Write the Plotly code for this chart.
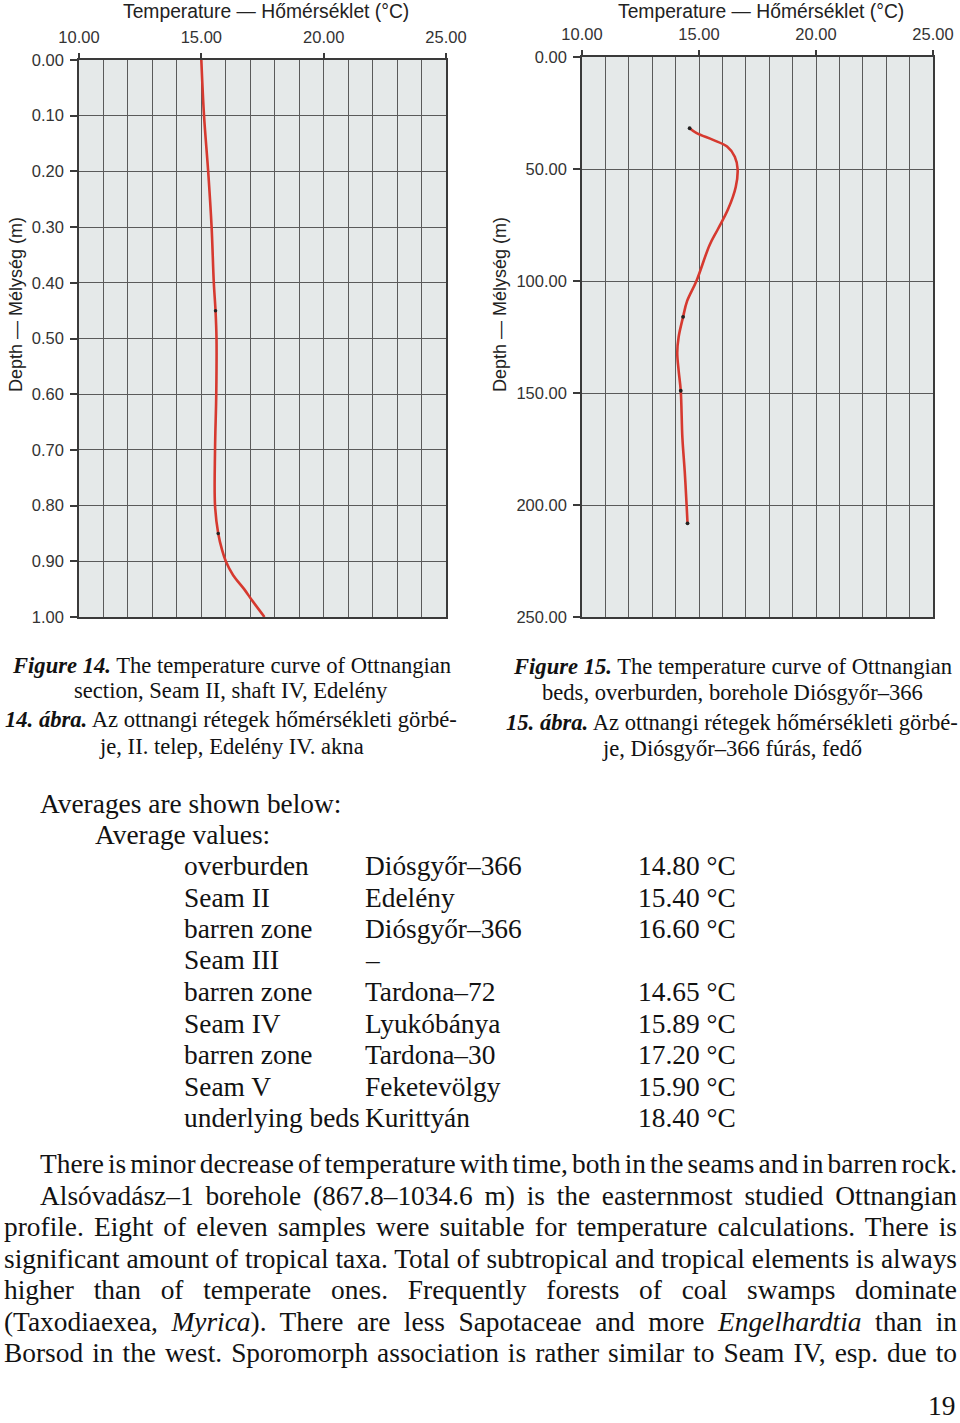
import json
import plotly.graph_objects as go

W, H = 960, 1423

# ---------------- data ----------------
left_depth = [0.00, 0.10, 0.20, 0.30, 0.40, 0.45, 0.50, 0.60, 0.70, 0.80, 0.85, 0.88, 0.90, 0.925, 0.95, 0.97, 1.00]
left_temp = [15.00, 15.11, 15.28, 15.42, 15.51, 15.58, 15.62, 15.61, 15.56, 15.56, 15.69, 15.85, 16.00, 16.30, 16.75, 17.07, 17.58]
left_sample_depth = [0.45, 0.85]
left_sample_temp = [15.58, 15.69]

right_depth = [31.8, 34, 37, 40, 44.5, 50, 58, 68, 77, 84, 100, 109, 116, 125, 132, 140, 149, 170, 185, 200, 208.2]
right_temp = [14.60, 14.90, 15.60, 16.20, 16.53, 16.65, 16.57, 16.24, 15.80, 15.45, 14.89, 14.49, 14.32, 14.13, 14.07, 14.13, 14.22, 14.29, 14.39, 14.47, 14.51]
right_sample_depth = [31.8, 116.0, 149.0, 208.2]
right_sample_temp = [14.60, 14.32, 14.22, 14.51]

temp_range = [10, 25]
left_depth_range = [0, 1]
right_depth_range = [0, 250]

x_title = "Temperature — Hőmérséklet (°C)"
y_title = "Depth — Mélység (m)"

caption_left = [
    "<b><i>Figure 14.</i></b> The temperature curve of Ottnangian",
    "section, Seam II, shaft IV, Edelény",
    "<b><i>14. ábra.</i></b> Az ottnangi rétegek hőmérsékleti görbé-",
    "je, II. telep, Edelény IV. akna",
]
caption_right = [
    "<b><i>Figure 15.</i></b> The temperature curve of Ottnangian",
    "beds, overburden, borehole Diósgyőr–366",
    "<b><i>15. ábra.</i></b> Az ottnangi rétegek hőmérsékleti görbé-",
    "je, Diósgyőr–366 fúrás, fedő",
]
intro_lines = ["Averages are shown below:", "Average values:"]
avg_units = ["overburden", "Seam II", "barren zone", "Seam III", "barren zone",
             "Seam IV", "barren zone", "Seam V", "underlying beds"]
avg_sites = ["Diósgyőr–366", "Edelény", "Diósgyőr–366", "–", "Tardona–72",
             "Lyukóbánya", "Tardona–30", "Feketevölgy", "Kurittyán"]
avg_temps = ["14.80 °C", "15.40 °C", "16.60 °C", "", "14.65 °C",
             "15.89 °C", "17.20 °C", "15.90 °C", "18.40 °C"]
paragraph = [
    "There is minor decrease of temperature with time, both in the seams and in barren rock.",
    "Alsóvadász–1 borehole (867.8–1034.6 m) is the easternmost studied Ottnangian",
    "profile. Eight of eleven samples were suitable for temperature calculations. There is",
    "significant amount of tropical taxa. Total of subtropical and tropical elements is always",
    "higher than of temperate ones. Frequently forests of coal swamps dominate",
    "(Taxodiaexea, <i>Myrica</i>). There are less Sapotaceae and more <i>Engelhardtia</i> than in",
    "Borsod in the west. Sporomorph association is rather similar to Seam IV, esp. due to",
]
page_number = "19"

# ---------------- styling ----------------
RED = "#d6392f"
GRID = "#5a5a5a"
AXIS = "#3a3a3a"
BG = "#e5e9e9"
SANS = "Liberation Sans, Arial, sans-serif"
SERIF = "Liberation Serif, Times New Roman, serif"
TXT = "#121212"
BODY = 27.4
CAP = 22.6


def px(x):
    return x / W


def py(y):
    return 1 - y / H


fig = go.Figure()
fig.add_trace(go.Scatter(x=left_temp, y=left_depth, mode="lines",
                         line=dict(color=RED, width=2.6, shape="spline", smoothing=1.0),
                         xaxis="x", yaxis="y", showlegend=False, hoverinfo="skip"))
fig.add_trace(go.Scatter(x=left_sample_temp, y=left_sample_depth, mode="markers",
                         marker=dict(color="#222", size=3.5),
                         xaxis="x", yaxis="y", showlegend=False, hoverinfo="skip"))
fig.add_trace(go.Scatter(x=right_temp, y=right_depth, mode="lines",
                         line=dict(color=RED, width=2.6, shape="spline", smoothing=1.0),
                         xaxis="x2", yaxis="y2", showlegend=False, hoverinfo="skip"))
fig.add_trace(go.Scatter(x=right_sample_temp, y=right_sample_depth, mode="markers",
                         marker=dict(color="#222", size=3.8),
                         xaxis="x2", yaxis="y2", showlegend=False, hoverinfo="skip"))


def xaxis_cfg(domain, anchor):
    return dict(domain=domain, anchor=anchor, side="top", range=temp_range,
                tick0=10, dtick=5, tickformat=".2f",
                showgrid=True, gridcolor=GRID, gridwidth=1.2,
                minor=dict(dtick=1, showgrid=True, gridcolor=GRID, gridwidth=1.2, ticks=""),
                ticks="outside", ticklen=5, tickwidth=1.5, tickcolor=AXIS,
                showline=True, mirror=True, linecolor=AXIS, linewidth=1.6,
                zeroline=False, ticklabelstandoff=4, automargin=False,
                tickfont=dict(family=SANS, size=16.5, color="#333"), fixedrange=True)


def yaxis_cfg(domain, anchor, rng, dtick):
    return dict(domain=domain, anchor=anchor, range=[rng[1], rng[0]],
                tick0=0, dtick=dtick, tickformat=".2f",
                showgrid=True, gridcolor=GRID, gridwidth=1.2,
                ticks="outside", ticklen=7, tickwidth=1.5, tickcolor=AXIS,
                showline=True, mirror=True, linecolor=AXIS, linewidth=1.6,
                zeroline=False, ticklabelstandoff=3, automargin=False,
                tickfont=dict(family=SANS, size=16.5, color="#333"), fixedrange=True)


annotations = []


def add_text(text, x, y, size, family=SERIF, xanchor="left", color=TXT, angle=0):
    align = {"left": "left", "right": "right"}.get(xanchor, "center")
    annotations.append(dict(text=text, x=px(x), y=py(y), xref="paper", yref="paper",
                            xanchor=xanchor, yanchor="middle", align=align, showarrow=False,
                            borderpad=0, borderwidth=0, textangle=angle,
                            font=dict(family=family, size=size, color=color)))
    return len(annotations) - 1


# chart titles
add_text(x_title, 266, 12, 19.3, SANS, "center", "#222")
add_text(x_title, 761, 11.5, 19.3, SANS, "center", "#222")
add_text(y_title, 16, 305, 18, SANS, "center", "#222", -90)
add_text(y_title, 500, 305, 18, SANS, "center", "#222", -90)

# captions
cap_y_left = [665, 690, 720, 746]
cap_y_right = [667, 692, 722, 748]
for t, yy in zip(caption_left, cap_y_left):
    add_text(t, 231, yy, CAP, SERIF, "center")
for t, yy in zip(caption_right, cap_y_right):
    add_text(t, 732, yy, CAP, SERIF, "center")

# averages table
add_text(intro_lines[0], 40, 804, BODY)
add_text(intro_lines[1], 95, 835, BODY)
row_y0, row_dy = 866, 31.5
for i, (u, s, t) in enumerate(zip(avg_units, avg_sites, avg_temps)):
    yy = row_y0 + i * row_dy
    add_text(u, 184, yy, BODY)
    add_text(s, 365, yy, BODY)
    if t:
        add_text(t, 638, yy, BODY)

# justified paragraph
targets = {}
para_x = [40, 40, 4, 4, 4, 4, 4]
for i, (t, xx) in enumerate(zip(paragraph, para_x)):
    idx = add_text(t, xx, 1164 + i * 31.5, BODY)
    targets[str(idx)] = 957 - xx

add_text(page_number, 955, 1406, BODY, SERIF, "right")

fig.update_layout(
    width=W, height=H, margin=dict(l=0, r=0, t=0, b=0, pad=0, autoexpand=False),
    paper_bgcolor="white", plot_bgcolor=BG,
    xaxis=xaxis_cfg([px(79), px(446)], "y"),
    yaxis=yaxis_cfg([py(617), py(60)], "x", left_depth_range, 0.1),
    xaxis2=xaxis_cfg([px(582), px(933)], "y2"),
    yaxis2=yaxis_cfg([py(617), py(57)], "x2", right_depth_range, 50),
    annotations=annotations,
    showlegend=False,
)

js = """
document.body.style.margin = '0';
document.body.style.padding = '0';
var gd = document.getElementById('{plot_id}');
var targets = TARGETS;
function justifyLines() {
  var groups = gd.querySelectorAll('g.annotation');
  for (var i = 0; i < groups.length; i++) {
    var g = groups[i];
    var idx = g.getAttribute('data-index');
    if (!(idx in targets)) continue;
    var t = g.querySelector('text.annotation-text');
    if (!t) continue;
    t.style.wordSpacing = '0px';
    var nat = t.getComputedTextLength();
    var n = (t.textContent.match(/ /g) || []).length;
    if (n > 0) { t.style.wordSpacing = ((targets[idx] - nat) / n) + 'px'; }
  }
}
justifyLines();
gd.on('plotly_afterplot', justifyLines);
""".replace("TARGETS", json.dumps(targets))

fig.write_html("out.html", config={"displayModeBar": False, "responsive": False}, post_script=js)
